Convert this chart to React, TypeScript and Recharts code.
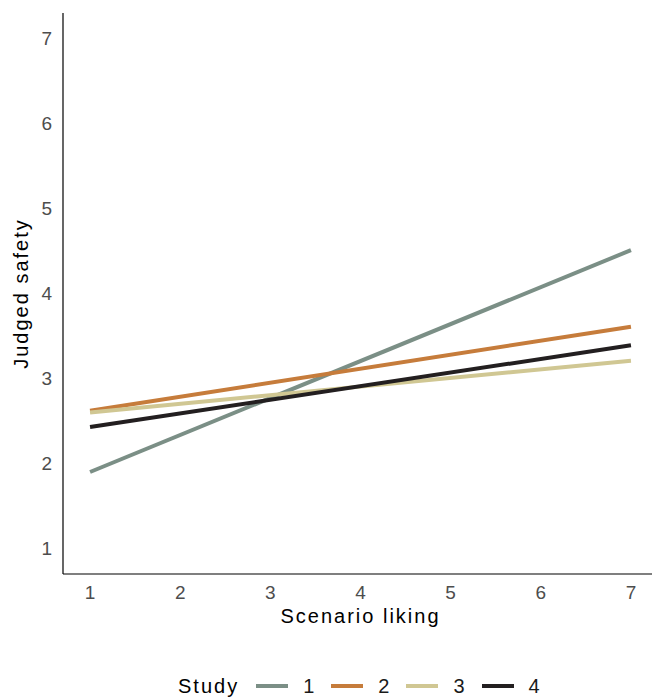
import { LineChart, Line, XAxis, YAxis } from 'recharts'

const xValues = [1, 7]
const study1 = [1.9, 4.51]
const study2 = [2.62, 3.61]
const study3 = [2.6, 3.21]
const study4 = [2.43, 3.39]
const ticks = [1, 2, 3, 4, 5, 6, 7]

const SERIES = [
  { key: 's1', label: '1', color: '#7b8f86', values: study1 },
  { key: 's2', label: '2', color: '#c67c3b', values: study2 },
  { key: 's3', label: '3', color: '#d0c793', values: study3 },
  { key: 's4', label: '4', color: '#231f20', values: study4 },
]

const data = xValues.map((x, i) => {
  const row: Record<string, number> = { x }
  SERIES.forEach((s) => {
    row[s.key] = s.values[i]
  })
  return row
})

const FONT = 'Arial, "Liberation Sans", sans-serif'
const tickStyle = { fontSize: 19, fill: '#4d4d4d', fontFamily: FONT }

export default function App() {
  return (
    <div style={{ position: 'absolute', left: 0, top: 0, width: 652, height: 697, overflow: 'hidden', background: '#fff' }}>
      <LineChart width={659} height={697} data={data} margin={{ top: 13, right: 1, left: 0, bottom: 63 }}>
        <XAxis
          dataKey="x"
          type="number"
          domain={[0.7, 7.3]}
          ticks={ticks}
          height={60}
          tickSize={0}
          tickMargin={12}
          fontSize={19}
          axisLine={{ stroke: '#000', strokeWidth: 1.2 }}
          tick={tickStyle}
          label={{
            content: (props: any) => {
              const vb = props.viewBox
              return (
                <text
                  x={vb.x + vb.width / 2}
                  y={vb.y + 49}
                  textAnchor="middle"
                  fontSize={20}
                  fontFamily={FONT}
                  letterSpacing={2}
                  fill="#000"
                >
                  Scenario liking
                </text>
              )
            },
          }}
        />
        <YAxis
          type="number"
          domain={[0.7, 7.3]}
          ticks={ticks}
          width={63}
          tickSize={0}
          tickMargin={11}
          fontSize={19}
          axisLine={{ stroke: '#000', strokeWidth: 1.2 }}
          tick={tickStyle}
          label={{
            content: (props: any) => {
              const vb = props.viewBox
              const cy = vb.y + vb.height / 2
              return (
                <text
                  x={28}
                  y={cy}
                  transform={`rotate(-90 28 ${cy})`}
                  textAnchor="middle"
                  fontSize={20}
                  fontFamily={FONT}
                  letterSpacing={2}
                  fill="#000"
                >
                  Judged safety
                </text>
              )
            },
          }}
        />
        {SERIES.map((s) => (
          <Line
            key={s.key}
            dataKey={s.key}
            stroke={s.color}
            strokeWidth={4}
            dot={false}
            activeDot={false}
            isAnimationActive={false}
          />
        ))}
      </LineChart>
      <div
        style={{
          position: 'absolute',
          left: 178,
          top: 674,
          display: 'flex',
          alignItems: 'center',
          fontFamily: FONT,
          fontSize: 20,
          color: '#000',
          lineHeight: '24px',
        }}
      >
        <span style={{ letterSpacing: 2, marginRight: 17 }}>Study</span>
        {SERIES.map((s) => (
          <span key={s.key} style={{ display: 'flex', alignItems: 'center', marginRight: 17 }}>
            <span style={{ display: 'inline-block', width: 32, height: 4, background: s.color, marginRight: 15 }} />
            <span style={{ color: '#1a1a1a' }}>{s.label}</span>
          </span>
        ))}
      </div>
    </div>
  )
}
